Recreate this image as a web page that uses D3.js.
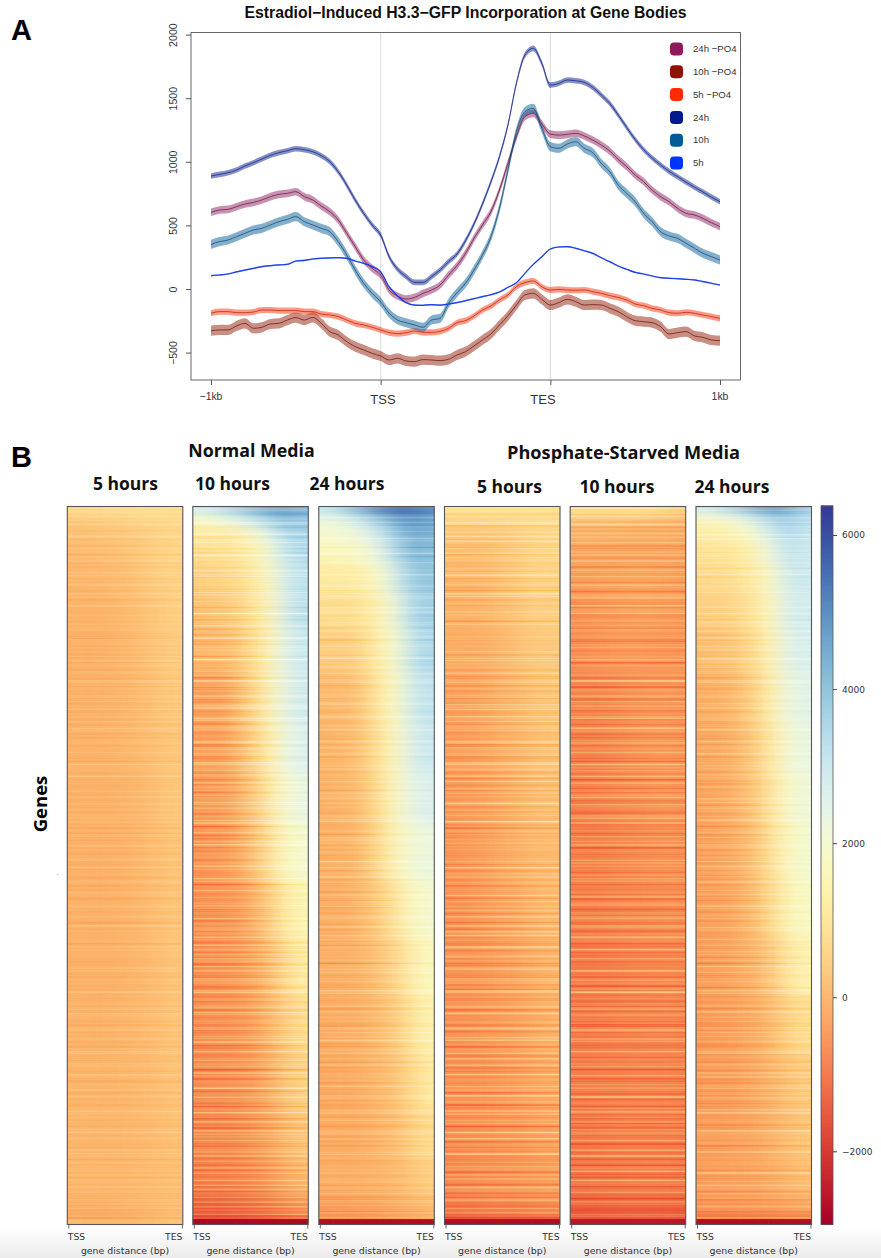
<!DOCTYPE html>
<html><head><meta charset="utf-8">
<script src="https://cdnjs.cloudflare.com/ajax/libs/d3/7.8.5/d3.min.js"></script>
<style>html,body{margin:0;padding:0;background:#fff}svg{display:block}</style>
</head><body>
<script>
// ---------- Panel A: values, one per 1/20 of a segment ----------
const profileTicks = ["−1kb","TSS","TES","1kb"];
const yTicks = [-500,0,500,1000,1500,2000];
const seriesNames = ["24h −PO4","10h −PO4","5h −PO4","24h","10h","5h"];
const seriesColors = ["#8e1a5a","#8f1200","#ff2a00","#001a8c","#005a96","#0033ff"];
const lineColors = ["#5e0f3c","#5e0c00","#a81c00","#0a1a78","#0c3f66","#1c3fe8"];
const bandHalf = [30,40,24,22,36,6];
const h24po4 = [603,621,626,647,668,681,700,726,744,752,765,726,700,652,608,542,438,333,228,162,110,-8,-55,-79,-66,-34,-8,31,110,183,280,398,503,608,778,988,1197,1355,1381,1297,1218,1210,1216,1224,1203,1171,1132,1085,1019,962,896,844,778,726,686,634,595,582,555,521,490];
const h10po4 = [-328,-322,-322,-291,-270,-309,-301,-275,-270,-244,-225,-244,-223,-270,-335,-362,-414,-453,-479,-506,-527,-558,-545,-566,-571,-555,-558,-563,-553,-519,-493,-448,-401,-354,-283,-212,-126,-47,-34,-81,-126,-107,-81,-100,-126,-123,-126,-152,-178,-218,-249,-257,-265,-296,-354,-343,-335,-369,-380,-401,-406];
const h5po4 = [-191,-178,-178,-186,-186,-181,-165,-165,-170,-170,-170,-178,-178,-197,-204,-217,-244,-270,-283,-301,-322,-343,-351,-343,-330,-341,-341,-333,-309,-265,-249,-212,-165,-134,-86,-47,18,50,63,18,-8,-3,-8,-10,-8,-21,-34,-52,-66,-86,-118,-131,-152,-165,-186,-191,-183,-191,-204,-217,-231];
const h24 = [888,901,914,935,967,993,1022,1051,1072,1087,1103,1095,1079,1048,1001,922,817,700,595,503,424,254,155,97,52,52,97,149,215,275,380,511,668,843,1040,1289,1617,1839,1892,1774,1603,1617,1643,1637,1624,1585,1525,1459,1368,1270,1175,1095,1030,975,925,883,840,800,762,722,686];
const h10 = [351,372,385,411,438,464,477,503,529,548,569,529,503,477,451,372,267,149,45,-34,-100,-191,-244,-265,-283,-301,-244,-231,-113,-29,45,149,267,411,634,935,1237,1394,1420,1263,1119,1106,1140,1158,1106,1072,988,922,817,752,686,595,529,451,417,398,359,320,280,254,228];
const h5 = [105,110,118,134,149,162,176,183,189,194,220,225,236,241,244,246,241,220,202,176,136,18,-55,-107,-126,-128,-123,-126,-118,-107,-92,-76,-60,-45,-24,13,50,123,194,254,314,330,333,320,301,280,246,215,181,155,131,118,102,89,84,81,76,71,58,45,31];
const profiles = [h24po4,h10po4,h5po4,h24,h10,h5];

// ---------- Panel B: rows are gene-rank bins (edges below), columns run TSS to TES ----------
const panelTitles = ["5 hours","10 hours","24 hours","5 hours","10 hours","24 hours"];
const rankEdges = [0,.006,.015,.03,.05,.08,.12,.17,.23,.30,.37,.44,.52,.60,.68,.76,.84,.91,.955,.98,.9925,1];
const m5h = [
[850,900,900,900,900,900,900,850],[600,650,650,700,750,800,800,800],[350,350,400,450,500,600,650,700],
[200,200,250,300,350,450,600,650],[100,100,150,200,300,400,550,600],[50,50,100,150,200,350,500,550],
[0,-30,0,50,150,250,400,500],[-50,-80,-50,0,100,200,350,450],[-20,-40,-30,0,50,150,300,400],
[-20,-40,-40,0,50,150,250,350],[-30,-50,-50,-20,30,100,250,350],[-50,-80,-80,-50,0,100,200,300],
[-50,-80,-80,-50,0,100,200,300],[-50,-60,-50,-20,20,100,200,300],[0,-20,-20,0,50,100,200,300],
[0,0,0,20,50,100,200,280],[50,30,30,50,50,100,180,250],[50,50,50,50,50,100,150,220],
[-50,-50,-30,0,50,80,120,200],[-200,-250,-250,-200,-150,-100,0,150],[150,100,100,100,100,150,200,300]];
const m10h = [
[3000,3400,3800,4200,4600,4800,4800,4500],[2400,2600,3000,3400,3900,4300,4400,4200],[1700,1800,2100,2500,3000,3600,4000,3800],
[1000,1050,1100,1300,1900,2800,3500,3600],[800,850,950,1100,1500,2200,3200,3400],[500,550,650,850,1200,1800,3000,3200],
[200,300,400,600,1050,1600,2900,3300],[50,50,150,450,900,1500,2600,3000],[-250,-300,-200,300,800,1500,2500,2900],
[-300,-350,-250,200,700,1300,2300,2700],[-400,-400,-300,50,500,1200,2000,2400],[-500,-450,-350,-100,350,1000,1700,2000],
[-550,-500,-450,-300,0,500,1200,1500],[-550,-500,-450,-350,-150,200,800,1150],[-600,-550,-500,-450,-250,100,500,800],
[-650,-600,-550,-500,-350,-50,300,550],[-700,-650,-650,-550,-400,-200,100,300],[-800,-750,-700,-650,-550,-350,-100,100],
[-1100,-1050,-1000,-950,-850,-700,-500,-300],[-1500,-1500,-1450,-1400,-1300,-1200,-1050,-900],[-2800,-2800,-2800,-2800,-2800,-2800,-2800,-2800]];
const m24h = [
[3200,3800,4400,5000,5400,5600,5600,5200],[2700,3000,3500,4200,4800,5200,5200,4800],[2200,2300,2600,3200,3900,4500,4800,4500],
[1900,1950,2100,2500,3200,4000,4600,4300],[1600,1650,1750,2000,2700,3600,4300,4100],[1150,1150,1200,1450,2000,3000,3900,3900],
[800,800,850,1100,1600,2400,3600,3700],[450,450,550,850,1450,2050,3300,3500],[100,100,200,600,1300,1800,3000,3200],
[0,50,150,500,1150,1700,2800,3000],[-50,0,100,400,1050,1700,2500,2700],[-50,-50,50,350,950,1600,2100,2300],
[-100,-100,0,200,550,1100,1750,2000],[-100,-100,-50,100,350,700,1300,1700],[-150,-100,-100,50,200,450,1000,1400],
[-200,-150,-150,0,100,300,700,1150],[-150,-150,-150,-50,50,200,500,800],[-100,-100,-100,-50,0,100,300,500],
[-300,-300,-250,-200,-150,-50,100,250],[-600,-550,-550,-500,-450,-350,-250,-100],[-2700,-2700,-2700,-2700,-2700,-2700,-2700,-2700]];
const mPs5h = [
[1000,1050,1000,1000,1000,1000,950,900],[800,850,850,850,850,900,850,800],[500,500,550,550,600,700,750,700],
[300,300,300,350,400,550,700,650],[150,150,200,250,350,500,700,600],[50,50,100,200,300,450,650,550],
[-50,-50,0,100,200,350,550,450],[-150,-150,-100,-50,100,250,400,350],[-300,-280,-200,-100,50,150,300,300],
[-350,-300,-250,-150,-50,100,250,250],[-400,-350,-300,-200,-100,50,200,200],[-500,-450,-350,-250,-150,0,100,100],
[-550,-500,-400,-300,-250,-100,50,100],[-500,-500,-450,-350,-300,-200,-50,0],[-550,-500,-450,-400,-350,-250,-100,-50],
[-550,-500,-500,-450,-400,-300,-200,-150],[-600,-550,-500,-500,-450,-400,-300,-250],[-650,-600,-550,-550,-500,-450,-400,-350],
[-800,-750,-700,-650,-650,-600,-550,-500],[-1300,-1300,-1250,-1200,-1200,-1150,-1100,-1100],[-2700,-2700,-2700,-2700,-2700,-2700,-2700,-2700]];
const mPs10h = [
[1000,1000,900,900,1000,900,800,600],[700,700,700,700,700,700,600,400],[200,200,200,200,150,150,100,50],
[-100,-100,-100,-150,-150,-150,-150,-200],[-250,-250,-250,-250,-250,-250,-250,-300],[-350,-350,-300,-300,-200,-250,-300,-350],
[-500,-450,-400,-400,-300,-300,-350,-400],[-600,-550,-500,-450,-450,-450,-500,-500],[-700,-700,-650,-600,-500,-450,-450,-500],
[-750,-750,-700,-600,-550,-450,-450,-500],[-800,-750,-700,-650,-600,-550,-500,-550],[-800,-800,-750,-700,-650,-600,-550,-600],
[-800,-800,-750,-700,-700,-650,-600,-650],[-850,-850,-800,-750,-700,-700,-650,-700],[-850,-850,-800,-750,-750,-700,-700,-750],
[-850,-850,-800,-800,-750,-750,-750,-800],[-900,-900,-850,-800,-800,-800,-800,-850],[-950,-950,-900,-900,-850,-850,-850,-900],
[-1150,-1150,-1100,-1050,-1050,-1050,-1050,-1100],[-1500,-1500,-1500,-1450,-1450,-1450,-1450,-1500],[-2500,-2500,-2500,-2500,-2500,-2500,-2500,-2500]];
const mPs24h = [
[3000,3300,3800,4300,4900,5000,4600,3800],[2300,2400,2800,3300,3900,4200,4000,3400],[1500,1600,1800,2200,2900,3500,3800,3200],
[1200,1300,1400,1700,2300,3000,3500,3000],[900,950,1000,1200,1700,2500,3300,2900],[700,700,800,1000,1400,2000,3100,2900],
[500,500,600,800,1200,1800,2900,2800],[200,250,350,550,1000,1600,2700,2700],[-100,-50,50,300,800,1450,2400,2500],
[-200,-150,-50,200,650,1300,2100,2400],[-250,-200,-100,150,500,1200,1900,2200],[-300,-250,-150,50,400,1100,1700,2000],
[-300,-300,-200,0,300,900,1600,1800],[-350,-300,-250,-100,100,500,1100,1400],[-400,-350,-300,-200,-50,200,600,800],
[-400,-350,-350,-250,-100,50,300,450],[-350,-350,-300,-250,-150,0,200,350],[-350,-300,-300,-250,-200,-100,50,200],
[-450,-450,-400,-400,-350,-300,-200,-100],[-800,-800,-800,-750,-750,-700,-650,-600],[-2700,-2700,-2700,-2700,-2700,-2700,-2700,-2700]];
const matrices = [m5h,m10h,m24h,mPs5h,mPs10h,mPs24h];

// Thin gene-row streaks: hand-estimated light (+) / dark (-) texture, not a row-by-row reading.
const streakA = [1,-2,0,3,-1,-3,2,0,-2,1,4,-1,0,-3,1,2,-2,-1,3,0,-4,1,2,-1,0,-2,3,1,-3,0,2,-1,-2,4,0,1,-3,-1,2,0,-2,3,-1,1,-4,0,2,1,-2,-1,3,0,-3,2,-1,1,0,-2,4,-1,-3,1,0,2,-2,3,-1,0,-3,1,2,-2,0,-1,4,1,-2,-3,2,0,1,-1,3,-2,0,-4,2,1,-1,0,3,-2,-1,1,-3,2,0,4,-2,-1,1,0,-3,2,3,-1,-2,0,1,-4,3,0,-1,2,-2,1,-3,0,4,-1,2,-2,0,1,-3,3,-1,0,-2,2,1,-4,0,3,-1,-2,1,2,0,-3,4,-1,-2,0,2,1,-3,-1,3,0,-2,1,-4,2,0,3,-1,-2,1,0,-3,2,4,-1,0,-2,1,-3,3,-1,2,0,-2,-4,1,3,0,-1,2,-3,-2,1,4,0,-1,-3,2,1,-2,0,3,-1,-4,2,0,1,-2,3,-3,0,-1,2,4,-2,1,0,-3,-1,3,2,-2,0,1,-4,-1,3,0,2,-3,1,-2,0,4,-1,-3,2,1,0,-2,3,-1,-4,1,2,0,-3,-1,4,-2,1];
const streakB = [-1,2,-3,0,1,3,-2,-1,0,4,-3,1,-1,2,0,-4,3,1,-2,0,-1,2,3,-3,0,1,-2,-1,4,0,-3,2,1,-1,-2,3,0,-4,1,2,-1,0,-3,3,1,-2,0,2,-1,-3,4,1,0,-2,2,-1,-4,3,0,1,-2,-1,2,0,-3,1,4,-2,-1,0,3,-3,1,2,-2,0,-1,3,-4,1,0,2,-3,-1,4,0,1,-2,3,-1,0,-3,2,1,-2,-1,0,4,-3,2,1,-1,-2,3,0,-4,1,2,-1,-3,0,3,1,-2,0,2,-1,-3,4,0,1,-2,-1,3,-4,0,2,1,-3,0,-1,3,2,-2,1,0,-4,2,-1,3,0,-2,1,-3,4,-1,0,2,-2,1,-3,3,0,-1,-2,2,1,0,-4,3,-1,-2,1,0,2,-3,4,0,-1,1,-2,3,-3,0,2,-1,1,-4,0,3,-2,1,-1,2,0,-3,4,1,-2,-1,0,3,-3,2,0,1,-4,-1,2,3,0,-2,1,-3,-1,4,0,2,-2,1,-3,0,3,-1,-2,2,0,1,-4,3,-1,0,-2,4,1,-3,0,2,-1,-2,3,1,0,-3,-1,2];
const streakC = [2,0,-3,1,-1,3,-4,0,2,-2,1,3,-1,-3,0,4,-2,1,0,-1,2,-3,3,0,-2,1,-1,-4,2,3,0,-1,-3,1,4,-2,0,-1,2,-3,1,0,3,-4,-1,2,0,1,-2,4,-3,0,1,-1,2,-2,3,0,-4,1,-1,2,-3,0,3,1,-2,-1,4,0,-3,2,1,-2,0,-1,3,-4,2,0,1,-3,-1,3,0,2,-2,1,-4,4,-1,0,-3,2,1,-2,3,0,-1,-3,2,0,4,-2,-1,1,-3,0,3,2,-4,0,1,-1,-2,3,0,2,-3,1,4,-1,-2,0,1,-3,3,-1,2,0,-4,1,-2,3,0,-1,2,-3,1,4,0,-2,-1,3,-3,0,2,1,-4,-1,3,0,-2,2,1,-3,0,4,-1,1,-2,0,3,-4,2,-1,0,1,-3,3,-2,0,2,4,-1,-3,1,0,-2,3,-1,2,-4,0,1,-3,2,0,3,-1,-2,4,0,1,-3,-1,2,0,-2,3,1,-4,0,2,-1,3,-3,0,1,-2,4,-1,0,-3,2,1,-2,-1,3,0,-4,2,1,0,-3,3,-1,-2,0,4,1,-3,2];
const streakFirst = [streakA,streakB,streakC,streakC,streakA,streakB];
const streakSecond = [streakB,streakC,streakA,streakB,streakC,streakA];
const streakAmp = [.38,.95,.6,.9,.9,.65];

const cbTicks = [-2000,0,2000,4000,6000];

// ---------- drawing ----------
const W=881,H=1258;
const svg=d3.select("body").append("svg").attr("width",W).attr("height",H);
const defs=svg.append("defs");
const sans="'Liberation Sans',Arial,sans-serif", dj="'DejaVu Sans',sans-serif", head="'Open Sans',sans-serif";

const fade=defs.append("linearGradient").attr("id","fade").attr("x1",0).attr("x2",0).attr("y1",0).attr("y2",1);
fade.append("stop").attr("offset",0).attr("stop-color","#fff");
fade.append("stop").attr("offset",1).attr("stop-color","#ebebeb");
svg.append("rect").attr("x",0).attr("y",1226).attr("width",W).attr("height",32).attr("fill","url(#fade)");

const blurBase=defs.append("filter").attr("id","blurBase").attr("x","-10%").attr("y","-5%").attr("width","120%").attr("height","110%");
blurBase.append("feGaussianBlur").attr("stdDeviation","11 5.5");
const blurStreak=defs.append("filter").attr("id","blurStreak").attr("x","-5%").attr("y","-1%").attr("width","110%").attr("height","102%");
blurStreak.append("feGaussianBlur").attr("stdDeviation","2.5 0.3");
const blurSoft=defs.append("filter").attr("id","blurSoft").attr("x","-5%").attr("y","-5%").attr("width","110%").attr("height","110%");
blurSoft.append("feGaussianBlur").attr("stdDeviation","0.5");

// Panel A
const px=d3.scaleLinear().domain([0,3]).range([211,720]);
const py=d3.scaleLinear().domain([0,2000]).range([289,34.6]);
const box={l:191,r:740.5,t:32.5,b:380};
const plotA=svg.append("g");
const tickPos=[0,1,2,3];
[1,2].forEach(t=>plotA.append("line").attr("x1",px(t)).attr("x2",px(t)).attr("y1",box.t).attr("y2",box.b).attr("stroke","#dcdcdc").attr("stroke-width",1.1));
const pos=d3.range(61).map(i=>i/20);
profiles.forEach((vals,s)=>{
  const area=d3.area().x((d,i)=>px(pos[i])).y0(d=>py(d-bandHalf[s])).y1(d=>py(d+bandHalf[s])).curve(d3.curveMonotoneX);
  const line=d3.line().x((d,i)=>px(pos[i])).y(d=>py(d)).curve(d3.curveMonotoneX);
  plotA.append("path").datum(vals).attr("d",area).attr("fill",seriesColors[s]).attr("opacity",s===5?.45:.48).attr("filter","url(#blurSoft)");
  plotA.append("path").datum(vals).attr("d",line).attr("fill","none").attr("stroke",lineColors[s]).attr("stroke-width",s===5?1.2:.7);
});
plotA.append("rect").attr("x",box.l).attr("y",box.t).attr("width",box.r-box.l).attr("height",box.b-box.t).attr("fill","none").attr("stroke","#666").attr("stroke-width",1);
const yAxis=d3.axisLeft(py).tickValues(yTicks).tickSize(5).tickFormat(d=>d<0?"−"+(-d):d);
const yg=plotA.append("g").attr("transform",`translate(${box.l},0)`).call(yAxis);
yg.select(".domain").remove();
yg.selectAll("line").attr("stroke","#555");
yg.selectAll("text").attr("dy",null).attr("transform",d=>`translate(-18,0) rotate(-90)`).attr("y",0).attr("x",0).attr("text-anchor","middle").attr("dominant-baseline","central")
  .attr("font-family",sans).attr("font-size",10.6).attr("fill","#333");
const xAxis=d3.axisBottom(px).tickValues(tickPos).tickSize(5).tickFormat("");
const xg=plotA.append("g").attr("transform",`translate(0,${box.b})`).call(xAxis);
xg.select(".domain").remove(); xg.selectAll("line").attr("stroke","#555");
const xLabelX=[211,383,543,720], xLabelY=[400,403.5,403.5,400], xLabelS=[10.4,13,13,10.4];
profileTicks.forEach((t,i)=>plotA.append("text").attr("x",xLabelX[i]).attr("y",xLabelY[i]).attr("text-anchor","middle").attr("font-family",sans).attr("font-size",xLabelS[i]).attr("fill","#333").text(t));
plotA.append("text").attr("x",465.5).attr("y",17.5).attr("text-anchor","middle").attr("font-family",sans).attr("font-weight",700).attr("font-size",15.8).attr("fill","#111").text("Estradiol−Induced H3.3−GFP Incorporation at Gene Bodies");
const legY=d3.scalePoint().domain(seriesNames).range([49,163]);
seriesNames.forEach((n,i)=>{
  plotA.append("rect").attr("x",670).attr("y",legY(n)-6.5).attr("width",13).attr("height",13).attr("rx",4).attr("fill",seriesColors[i]);
  plotA.append("text").attr("x",693).attr("y",legY(n)+3.2).attr("font-family",sans).attr("font-size",9.6).attr("fill","#333").text(n);
});
svg.append("text").attr("x",11).attr("y",40).attr("font-family",sans).attr("font-weight",700).attr("font-size",29).attr("fill","#000").text("A");
svg.append("text").attr("x",11).attr("y",467).attr("font-family",sans).attr("font-weight",700).attr("font-size",29).attr("fill","#000").text("B");

// Panel B
const panelX=[67.3,192.8,318.8,444.5,570.2,696];
const panelW=115.5, heatTop=506.5, heatBottom=1224.5;
const yRank=d3.scaleLinear().domain([0,1]).range([heatTop,heatBottom]);
const color=d3.scaleSequential(d3.interpolateRdYlBu).domain([-2950,6377]);
const titleX=[125.5,232.5,347,509.5,617,732], titleY=[490,490,490,493,493,493];
const nR=rankEdges.length-1;
matrices.forEach((m,p)=>{
  const x0=panelX[p];
  const xCol=d3.scaleBand().domain(d3.range(8)).range([x0,x0+panelW]);
  const id="clip"+p;
  defs.append("clipPath").attr("id",id).append("rect").attr("x",x0).attr("y",heatTop).attr("width",panelW).attr("height",heatBottom-heatTop);
  const g=svg.append("g").attr("clip-path",`url(#${id})`).style("isolation","isolate");
  const base=g.append("g").attr("filter","url(#blurBase)");
  m.slice(0,nR-1).forEach((row,r)=>{
    row.forEach((v,c)=>{
      const pad=(c===0?40:0), padR=(c===7?40:0), padT=(r===0?30:0), padB=(r===nR-2?30:0);
      base.append("rect").attr("x",xCol(c)-pad).attr("width",xCol.bandwidth()+pad+padR+.5)
        .attr("y",yRank(rankEdges[r])-padT).attr("height",yRank(rankEdges[r+1])-yRank(rankEdges[r])+padT+padB+.5).attr("fill",color(v));
    });
  });
  [[streakFirst[p],0],[streakSecond[p],.5]].forEach(([list,shift])=>{
    const yS=d3.scaleBand().domain(d3.range(list.length)).range([heatTop,heatBottom]);
    const st=g.append("g").style("mix-blend-mode","overlay").attr("filter","url(#blurStreak)");
    st.selectAll("rect").data(list).join("rect")
      .attr("x",x0-10).attr("width",panelW+20).attr("y",(d,i)=>yS(i)+shift*yS.bandwidth()).attr("height",yS.bandwidth()*.45)
      .attr("fill",d=>d>0?"#fff":"#000").attr("opacity",d=>Math.abs(d)/4*streakAmp[p]*(d>0?.42:.3));
  });
  m[nR-1].forEach((v,c)=>{
    g.append("rect").attr("x",xCol(c)).attr("width",xCol.bandwidth()+.5).attr("y",yRank(rankEdges[nR-1])).attr("height",yRank(1)-yRank(rankEdges[nR-1])).attr("fill",color(v));
  });
  svg.append("rect").attr("x",x0).attr("y",heatTop).attr("width",panelW).attr("height",heatBottom-heatTop).attr("fill","none").attr("stroke","#555").attr("stroke-width",1.1);
  // bottom ticks
  const xT=d3.scalePoint().domain(["TSS","TES"]).range([x0+1,x0+panelW-1]);
  const ax=svg.append("g").attr("transform",`translate(0,${heatBottom})`).call(d3.axisBottom(xT).tickSize(4).tickFormat(""));
  ax.select(".domain").remove(); ax.selectAll("line").attr("stroke","#666");
  svg.append("text").attr("x",x0+.5).attr("y",1240).attr("font-family",dj).attr("font-size",9.2).attr("fill","#333").text("TSS");
  svg.append("text").attr("x",x0+panelW-.5).attr("y",1240).attr("text-anchor","end").attr("font-family",dj).attr("font-size",9.2).attr("fill","#333").text("TES");
  svg.append("text").attr("x",x0+panelW/2).attr("y",1253.5).attr("text-anchor","middle").attr("font-family",dj).attr("font-size",9.4).attr("fill","#333").text("gene distance (bp)");
  svg.append("text").attr("x",titleX[p]).attr("y",titleY[p]).attr("text-anchor","middle").attr("font-family",head).attr("font-weight",700).attr("font-size",17.5).attr("fill","#111").text(panelTitles[p]);
});
svg.append("text").attr("x",251.5).attr("y",457).attr("text-anchor","middle").attr("font-family",head).attr("font-weight",700).attr("font-size",17.8).attr("fill","#111").text("Normal Media");
svg.append("text").attr("x",623.5).attr("y",459).attr("text-anchor","middle").attr("font-family",head).attr("font-weight",700).attr("font-size",18.2).attr("fill","#111").text("Phosphate-Starved Media");
svg.append("text").attr("transform","translate(47,804) rotate(-90)").attr("text-anchor","middle").attr("font-family",head).attr("font-weight",700).attr("font-size",18.5).attr("fill","#000").text("Genes");
svg.append("text").attr("x",57).attr("y",878).attr("font-family",sans).attr("font-size",6).attr("fill","#666").text("'");

// Colour bar
const cbY=d3.scaleLinear().domain([-2950,6377]).range([1224.5,506]);
const cb=svg.append("g");
d3.range(-2950,6377,13).forEach(v=>cb.append("rect").attr("x",821).attr("width",12).attr("y",cbY(v+13)).attr("height",cbY(v)-cbY(v+13)+.5).attr("fill",color(v)));
cb.append("rect").attr("x",821).attr("y",506).attr("width",12).attr("height",718.5).attr("fill","none").attr("stroke","#555").attr("stroke-width",.8);
const cbA=svg.append("g").attr("transform","translate(833,0)").call(d3.axisRight(cbY).tickValues(cbTicks).tickSize(4).tickFormat(d=>d<0?"−"+(-d):d));
cbA.select(".domain").remove();
cbA.selectAll("line").attr("stroke","#444");
cbA.selectAll("text").attr("font-family",dj).attr("font-size",9).attr("fill","#333").attr("x",9);
</script>
</body></html>
